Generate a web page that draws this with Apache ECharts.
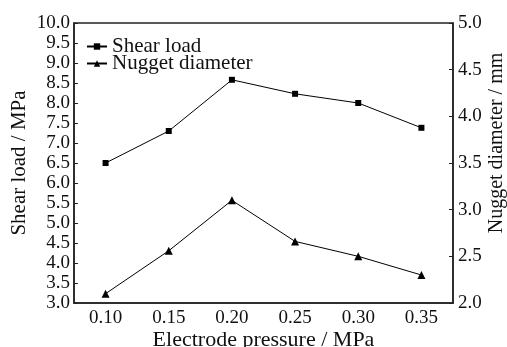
<!DOCTYPE html>
<html>
<head>
<meta charset="utf-8">
<script src="https://cdn.jsdelivr.net/npm/echarts@6/dist/echarts.min.js"></script>
<style>
  html, body { margin: 0; padding: 0; background: #fff; }
  #main { width: 507px; height: 347px; }
</style>
</head>
<body>
<div id="main"></div>
<script>
// data
var pressure = ['0.10', '0.15', '0.20', '0.25', '0.30', '0.35'];
var shearLoad = [6.5, 7.3, 8.58, 8.23, 8.0, 7.38];
var nuggetDiameter = [2.1, 2.56, 3.1, 2.66, 2.5, 2.3];

var font = 'Liberation Serif';
var ink = '#111';

var myChart = echarts.init(document.getElementById('main'));

var option = {
  backgroundColor: '#fff',
  animation: false,
  grid: {
    left: 74,
    right: 54,
    top: 23,
    bottom: 44,
    outerBoundsMode: 'none',
    show: true,
    borderColor: '#222',
    borderWidth: 1.5
  },
  legend: {
    orient: 'vertical',
    left: 81,
    top: 31,
    itemWidth: 20,
    itemHeight: 8,
    itemGap: -4,
    textStyle: { fontFamily: font, fontSize: 21, color: ink },
    data: ['Shear load', 'Nugget diameter']
  },
  xAxis: {
    type: 'category',
    data: pressure,
    name: 'Electrode pressure / MPa',
    nameLocation: 'middle',
    nameMoveOverlap: false,
    nameGap: 26,
    nameTextStyle: { fontFamily: font, fontSize: 22, color: ink },
    axisLine: { lineStyle: { color: '#222', width: 1.5 } },
    axisTick: { inside: true, length: 4, alignWithLabel: true, lineStyle: { color: '#222' } },
    axisLabel: { margin: 6, fontFamily: font, fontSize: 19, color: ink },
    splitLine: { show: false }
  },
  yAxis: [{
    type: 'value',
    min: 3,
    max: 10,
    interval: 0.5,
    name: 'Shear load / MPa',
    nameLocation: 'middle',
    nameMoveOverlap: false,
    nameGap: 44,
    nameTextStyle: { fontFamily: font, fontSize: 21, color: ink },
    axisLine: { show: true, lineStyle: { color: '#222', width: 1.5 } },
    axisTick: { show: true, inside: true, length: 4, lineStyle: { color: '#222' } },
    axisLabel: {
      margin: 4, fontFamily: font, fontSize: 19, color: ink,
      formatter: function (v) { return v.toFixed(1); }
    },
    splitLine: { show: false }
  }, {
    type: 'value',
    position: 'right',
    min: 2,
    max: 5,
    interval: 0.5,
    name: 'Nugget diameter / mm',
    nameLocation: 'middle',
    nameMoveOverlap: false,
    nameRotate: 90,
    nameGap: 34,
    nameTextStyle: { fontFamily: font, fontSize: 20, color: ink, padding: [0, 0, 0, 40] },
    axisLine: { show: true, lineStyle: { color: '#222', width: 1.5 } },
    axisTick: { show: true, inside: true, length: 4, lineStyle: { color: '#222' } },
    axisLabel: {
      margin: 5, fontFamily: font, fontSize: 19, color: ink,
      formatter: function (v) { return v.toFixed(1); }
    },
    splitLine: { show: false }
  }],
  series: [{
    name: 'Shear load',
    type: 'line',
    yAxisIndex: 0,
    data: shearLoad,
    symbol: 'rect',
    symbolSize: 6,
    color: '#000',
    lineStyle: { color: '#000', width: 1 },
    itemStyle: { color: '#000' }
  }, {
    name: 'Nugget diameter',
    type: 'line',
    yAxisIndex: 1,
    data: nuggetDiameter,
    symbol: 'triangle',
    symbolSize: 8,
    color: '#000',
    lineStyle: { color: '#000', width: 1 },
    itemStyle: { color: '#000' }
  }]
};

myChart.setOption(option);
</script>
</body>
</html>
